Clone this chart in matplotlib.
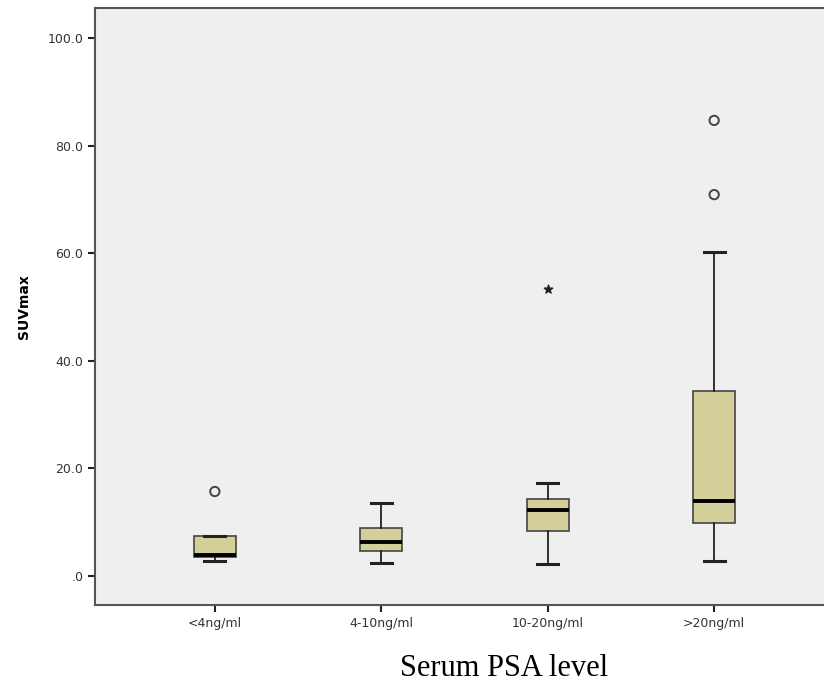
import matplotlib.pyplot as plt

groups = ["<4ng/ml", "4-10ng/ml", "10-20ng/ml", ">20ng/ml"]
q1 = [3.5, 4.7, 8.4, 9.9]
median = [3.9, 6.3, 12.3, 14.0]
q3 = [7.5, 9.0, 14.4, 34.3]
whis_low = [2.8, 2.5, 2.2, 2.8]
whis_high = [7.5, 13.6, 17.2, 60.3]

# outliers (circles) and extreme values (stars), as (group index, value)
outliers = [(0, 15.7), (3, 70.9), (3, 84.7)]
extremes = [(2, 53.4)]

stats = []
for i, g in enumerate(groups):
    stats.append({"label": g, "q1": q1[i], "med": median[i], "q3": q3[i],
                  "whislo": whis_low[i], "whishi": whis_high[i], "fliers": []})

fig = plt.figure(figsize=(8.24, 6.84), dpi=100)
# axes run past the right edge like the cropped original
ax = fig.add_axes([95 / 824, 1 - 605 / 684, 739 / 824, 597 / 684])
ax.set_facecolor('#efefef')

pos = [1, 2, 3, 4]
ax.bxp(stats, positions=pos, widths=0.25, patch_artist=True, showfliers=False,
       boxprops=dict(facecolor='#d4cf9a', edgecolor='#444444', linewidth=1.2),
       medianprops=dict(color='black', linewidth=2.8),
       whiskerprops=dict(color='#222222', linewidth=1.3),
       capprops=dict(color='#222222', linewidth=2.2),
       capwidths=0.125)

ax.scatter([pos[i] for i, v in outliers], [v for i, v in outliers],
           marker='o', s=45, facecolors='none', edgecolors='#444444', linewidths=1.4, zorder=3)
ax.scatter([pos[i] for i, v in extremes], [v for i, v in extremes],
           marker='*', s=40, color='#222222', zorder=3)

ax.set_xlim(0.28, 4.72)
ax.set_ylim(-5.4, 105.6)
ax.set_yticks([0, 20, 40, 60, 80, 100])
ax.set_yticklabels(['.0', '20.0', '40.0', '60.0', '80.0', '100.0'])
ax.set_xticks(pos)
ax.set_xticklabels(groups)
ax.tick_params(axis='both', labelsize=9, colors='#222222', labelcolor='#333333',
               length=5, width=1.5, direction='out')

for s in ax.spines.values():
    s.set_color('#555555')
    s.set_linewidth(1.5)

ax.set_ylabel('SUVmax', fontsize=10, fontweight='bold', labelpad=12)
fig.text(504 / 824, 1 - 676 / 684, 'Serum PSA level', fontsize=22,
         family='Liberation Serif', ha='center', va='baseline')

fig.savefig('out.png', dpi=100)
